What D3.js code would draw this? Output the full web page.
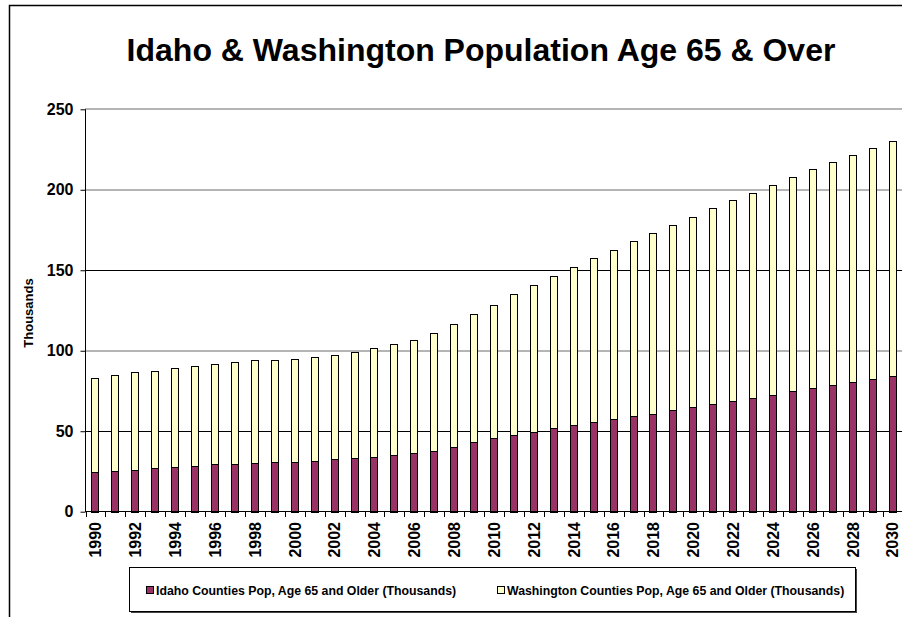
<!DOCTYPE html>
<html><head><meta charset="utf-8">
<script src="https://cdn.jsdelivr.net/npm/d3@7"></script>
<style>body{margin:0;background:#fff}svg{display:block;font-family:"Liberation Sans",Arial,sans-serif}</style>
</head><body><svg id="c" width="902" height="617"></svg>
<script>
const years = d3.range(1990, 2031).map(String);
const totalValues = [82.8,84.8,86.5,87.7,89.1,90.6,91.6,92.9,94.1,94.5,94.9,96.4,97.6,99.3,101.4,104.0,106.9,110.9,116.6,122.6,128.2,135.2,140.8,146.4,151.8,157.4,162.5,167.9,173.3,178.0,183.3,188.4,193.4,198.3,203.1,208.1,212.6,217.4,221.9,226.2,230.5];
const idahoValues = [24.4,25.4,26.1,27.1,27.9,28.5,29.4,29.8,30.4,30.7,30.8,31.6,32.5,33.1,34.1,35.4,36.2,37.5,40.1,43.1,45.7,47.8,49.6,51.7,53.6,55.5,57.3,59.2,61.0,62.9,65.0,66.8,68.9,70.7,72.8,74.9,76.7,78.6,80.5,82.5,84.2];
const washingtonValues = totalValues.map((t, i) => +(t - idahoValues[i]).toFixed(1));
const seriesNames = ["Idaho Counties Pop, Age 65 and Older (Thousands)", "Washington Counties Pop, Age 65 and Older (Thousands)"];
const seriesColors = ["#993366", "#FFFFCC"];
const yTicks = [0, 50, 100, 150, 200, 250];
const xLabelYears = years.filter((y, i) => i % 2 === 0);
const titleText = "Idaho & Washington Population Age 65 & Over";
const yAxisTitle = "Thousands";

const svg = d3.select("#c");
svg.append("rect").attr("width", 902).attr("height", 617).attr("fill", "#fff");
// outer chart border (cropped on right/bottom)
svg.append("path").attr("d", "M9.5,617 V5.5 H902").attr("fill", "none").attr("stroke", "#000").attr("stroke-width", 1.5);

const x = d3.scaleBand().domain(years).range([85.5, 902.6]).paddingInner(0.6).paddingOuter(0.3);
const y = d3.scaleLinear().domain([0, 250]).range([511.7, 109.3]);

// gridlines
const grayTicks = [100, 200, 250];
svg.append("g").selectAll("line").data(yTicks.filter(d => d > 0)).join("line")
  .attr("x1", 85).attr("x2", 902)
  .attr("y1", d => grayTicks.includes(d) ? Math.round(y(d)) : Math.floor(y(d)) + 0.5)
  .attr("y2", d => grayTicks.includes(d) ? Math.round(y(d)) : Math.floor(y(d)) + 0.5)
  .attr("stroke", d => grayTicks.includes(d) ? "#6b6b6b" : "#000").attr("stroke-width", 1);

// stacked bars
const data = years.map((yr, i) => ({year: yr, idaho: idahoValues[i], washington: washingtonValues[i]}));
const stack = d3.stack().keys(["idaho", "washington"])(data);
const barsG = svg.append("g");
stack.forEach((layer, li) => {
  barsG.append("g").selectAll("rect").data(layer).join("rect")
    .attr("x", d => Math.round(x(d.data.year)) + 0.5)
    .attr("width", Math.round(x.bandwidth()) - 1)
    .attr("y", d => Math.round(y(d[1])) + 0.5)
    .attr("height", d => Math.round(y(d[0])) - Math.round(y(d[1])))
    .attr("fill", seriesColors[li]).attr("stroke", "#000").attr("stroke-width", 1);
});

// y axis
const yAxis = d3.axisLeft(y).tickValues(yTicks).tickSize(5).tickPadding(7);
const gy = svg.append("g").attr("transform", "translate(85.5,0)").call(yAxis);
gy.select(".domain").attr("d", `M0,${y(250)}V${y(0)}`).attr("stroke", "#000");
gy.selectAll(".tick line").attr("stroke", "#000");
gy.selectAll(".tick text").attr("font-size", 16).attr("font-weight", "bold").attr("fill", "#000")
  .attr("font-family", "Liberation Sans, Arial, sans-serif");

// x axis line and ticks at band boundaries
const step = x.step();
const boundaries = years.map(yr => x(yr) - x.paddingOuter() * step).concat([x(years[years.length - 1]) + x.bandwidth() + x.paddingOuter() * step]);
svg.append("line").attr("x1", 85).attr("x2", 902).attr("y1", 511.5).attr("y2", 511.5).attr("stroke", "#000");
svg.append("g").selectAll("line").data(boundaries).join("line")
  .attr("x1", d => Math.round(d) + 0.5).attr("x2", d => Math.round(d) + 0.5)
  .attr("y1", 511).attr("y2", 517).attr("stroke", "#000");
svg.append("g").selectAll("text").data(xLabelYears).join("text")
  .attr("transform", d => `translate(${x(d) + x.bandwidth() / 2},522) rotate(-90)`)
  .attr("text-anchor", "end").attr("dy", "0.36em")
  .attr("font-size", 16).attr("font-weight", "bold").text(d => d);

// titles
svg.append("text").attr("x", 481).attr("y", 61).attr("text-anchor", "middle")
  .attr("font-size", 32).attr("font-weight", "bold").text(titleText);
svg.append("text").attr("transform", "translate(33,313) rotate(-90)").attr("text-anchor", "middle")
  .attr("font-size", 13).attr("font-weight", "bold").text(yAxisTitle);

// legend
const lg = svg.append("g");
lg.append("rect").attr("x", 131).attr("y", 569).attr("width", 726).attr("height", 44).attr("fill", "#444");
lg.append("rect").attr("x", 129.5).attr("y", 567.5).attr("width", 726).attr("height", 44).attr("fill", "#fff").attr("stroke", "#000");
const legendX = [146, 497];
seriesNames.forEach((name, i) => {
  lg.append("rect").attr("x", legendX[i] + 0.5).attr("y", 586.5).attr("width", 7).attr("height", 7)
    .attr("fill", seriesColors[i]).attr("stroke", "#000");
  lg.append("text").attr("x", legendX[i] + 10).attr("y", 594.5).attr("font-size", 12.3).attr("font-weight", "bold").text(name);
});
</script></body></html>
